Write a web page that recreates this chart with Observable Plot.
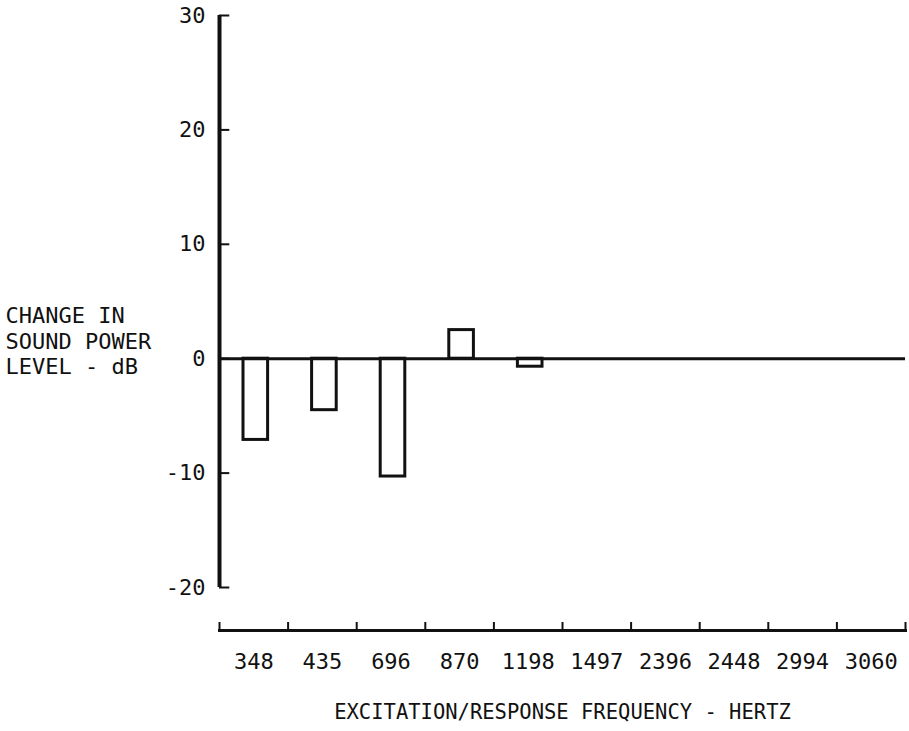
<!DOCTYPE html>
<html>
<head>
<meta charset="utf-8">
<script src="https://cdn.jsdelivr.net/npm/d3@7"></script>
<script src="https://cdn.jsdelivr.net/npm/@observablehq/plot@0.6"></script>
<style>
  html, body { margin: 0; padding: 0; background: #fff; }
  svg { display: block; }
</style>
</head>
<body>
<div id="chart"></div>
<script>
const categories = ["348", "435", "696", "870", "1198", "1497", "2396", "2448", "2994", "3060"];
const values = [-7.1, -4.5, -10.3, 2.5, -0.7, null, null, null, null, null];
const yTicks = [-20, -10, 0, 10, 20, 30];
const yLabel = "CHANGE IN\nSOUND POWER\nLEVEL - dB";
const xLabel = "EXCITATION/RESPONSE FREQUENCY - HERTZ";

const data = categories.map((c, i) => ({cat: c, i, v: values[i]})).filter(d => d.v != null);
const bounds = d3.range(categories.length + 1);
const centers = categories.map((c, i) => i + 0.5);
const font = "DejaVu Sans Mono";

const chart = Plot.plot({
  width: 909,
  height: 731,
  marginLeft: 219,
  marginRight: 4,
  marginTop: 15,
  marginBottom: 101,
  style: {fontFamily: font, fontSize: "22px", color: "#111", background: "#fff"},
  x: {domain: [0, categories.length], axis: null},
  y: {domain: [-20, 30], range: [587, 15], axis: null},
  marks: [
    // bars
    Plot.rectY(data, {
      x1: d => d.i, x2: d => d.i + 1, y1: 0, y2: d => d.v,
      insetLeft: 24, insetRight: 20,
      fill: "#fff", stroke: "#111", strokeWidth: 3
    }),
    // zero line
    Plot.ruleY([0], {x1: 0, x2: categories.length, stroke: "#111", strokeWidth: 3}),
    // y axis line
    Plot.ruleX([0], {y1: -20, y2: 30, stroke: "#111", strokeWidth: 4}),
    // y axis inner ticks
    Plot.ruleY(yTicks, {x1: 0, x2: 0.15, stroke: "#111", strokeWidth: 2}),
    // y tick labels
    Plot.axisY({ticks: yTicks, anchor: "left", tickSize: 0, tickPadding: 14, tickFormat: d => String(d), fontSize: 22, fill: "#111"}),
    // bottom axis line
    Plot.frame({anchor: "bottom", stroke: "#111", strokeWidth: 3}),
    // boundary ticks (upward)
    Plot.axisX({ticks: bounds, anchor: "bottom", tickSize: -8, tickFormat: () => "", strokeWidth: 2, stroke: "#111", label: null}),
    // category labels
    Plot.axisX({ticks: centers, anchor: "bottom", tickSize: 0, tickPadding: 23,
      tickFormat: d => categories[Math.round(d - 0.5)], fontSize: 22, fill: "#111", label: null}),
    // x title
    Plot.text([xLabel], {frameAnchor: "bottom", dy: 82, x: categories.length / 2, text: d => d, fontSize: 20.5, fill: "#111", lineAnchor: "middle"}),
    // y title
    Plot.text([yLabel], {frameAnchor: "top-left", dx: -214, dy: 325, text: d => d, fontSize: 22, fill: "#111", textAnchor: "start", lineAnchor: "middle", lineHeight: 1.14})
  ]
});
document.getElementById("chart").appendChild(chart);
</script>
</body>
</html>
